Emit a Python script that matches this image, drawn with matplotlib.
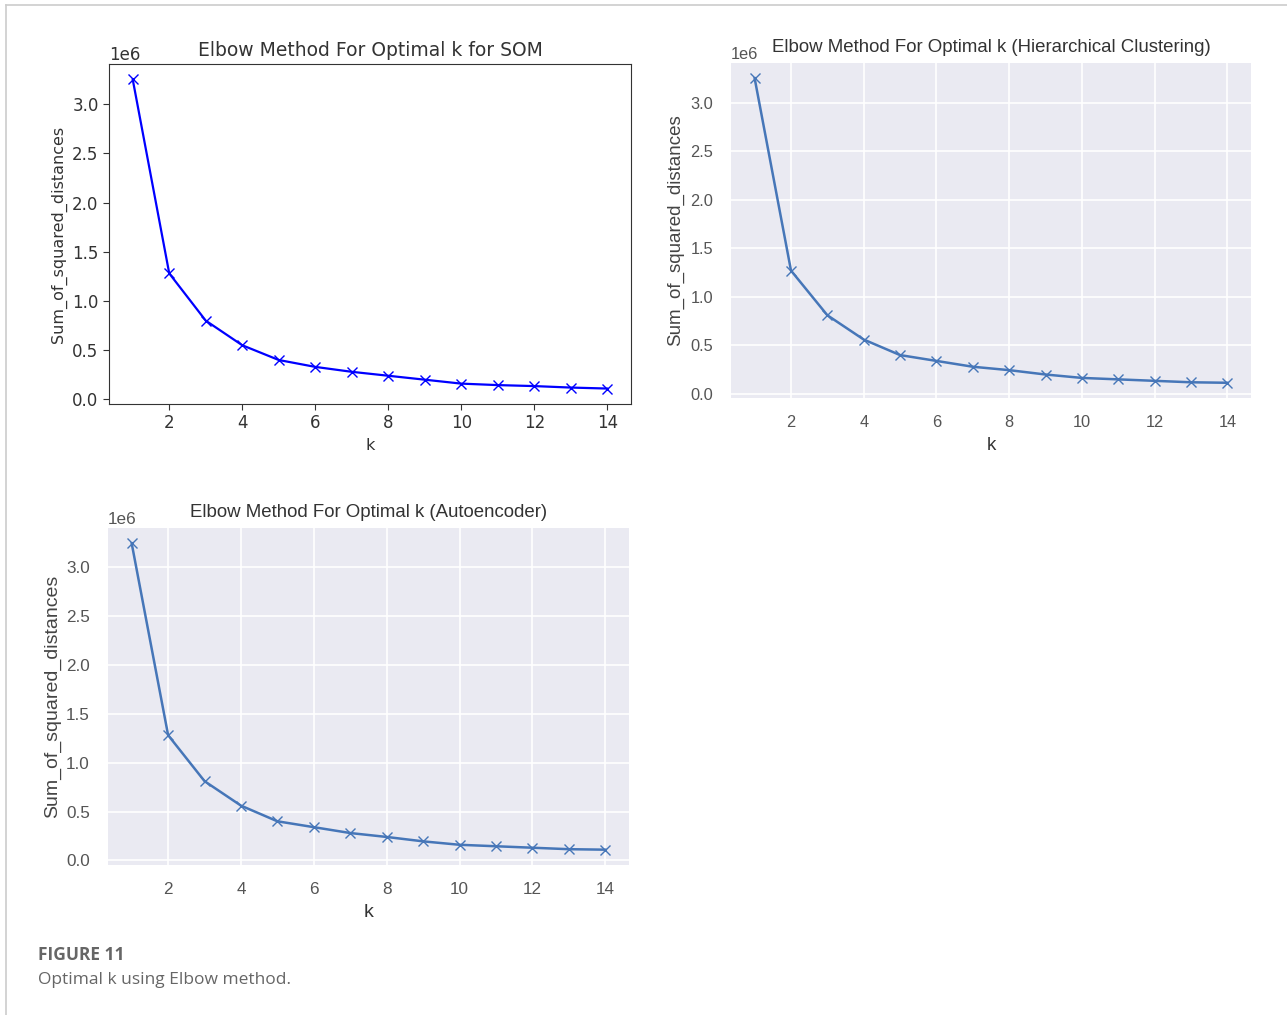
import matplotlib
matplotlib.use("Agg")
import matplotlib.pyplot as plt
from matplotlib.lines import Line2D

k_values = list(range(1, 15))
som_ssd = [3.25e6, 1.28e6, 0.80e6, 0.55e6, 0.40e6, 0.33e6, 0.28e6, 0.24e6,
           0.20e6, 0.16e6, 0.145e6, 0.135e6, 0.12e6, 0.11e6]
hier_ssd = [3.25e6, 1.27e6, 0.81e6, 0.56e6, 0.40e6, 0.34e6, 0.28e6, 0.245e6,
            0.20e6, 0.165e6, 0.15e6, 0.135e6, 0.12e6, 0.115e6]
auto_ssd = [3.24e6, 1.28e6, 0.81e6, 0.56e6, 0.40e6, 0.34e6, 0.28e6, 0.24e6,
            0.195e6, 0.16e6, 0.145e6, 0.13e6, 0.115e6, 0.11e6]
titles = ["Elbow Method For Optimal k for SOM",
          "Elbow Method For Optimal k (Hierarchical Clustering)",
          "Elbow Method For Optimal k (Autoencoder)"]
xlabel = "k"
ylabel = "Sum_of_squared_distances"
caption_head = "FIGURE 11"
caption_text = "Optimal k using Elbow method."

W, H = 1287, 1015
fig = plt.figure(figsize=(W / 100, H / 100), dpi=100)
fig.patch.set_facecolor("white")

def rect(l, t, r, b):
    return [l / W, 1 - b / H, (r - l) / W, (b - t) / H]

# --- Panel 1: classic matplotlib style ---
ax1 = fig.add_axes(rect(109, 64, 631, 404))
ax1.plot(k_values, som_ssd, "bx-", lw=1.6, ms=7)
ax1.set_title(titles[0], fontsize=13.5, family="DejaVu Sans", color="#333333", pad=6)
ax1.set_xlabel(xlabel, fontsize=11.5, color="#333333", labelpad=4)
ax1.set_ylabel(ylabel, fontsize=11.5, color="#333333")
ax1.set_xticks([2, 4, 6, 8, 10, 12, 14])
ax1.set_yticks([0, 0.5e6, 1.0e6, 1.5e6, 2.0e6, 2.5e6, 3.0e6])
ax1.tick_params(labelsize=12, colors="#333333", direction="out", length=4)
for sp in ax1.spines.values():
    sp.set_color("#333333")
ax1.yaxis.get_offset_text().set_fontsize(12)
ax1.yaxis.get_offset_text().set_color("#333333")

# --- Panels 2 & 3: seaborn darkgrid look ---
sns_blue = "#4676B8"
def dark_panel(ax, y, title, tick_fs, label_fs):
    ax.set_facecolor("#EAEAF2")
    ax.grid(True, color="white", lw=1.2)
    ax.set_axisbelow(True)
    for sp in ax.spines.values():
        sp.set_visible(False)
    ax.plot(k_values, y, marker="x", color=sns_blue, lw=1.8, ms=7.5)
    ax.set_title(title, fontsize=13.4, family="Liberation Sans", color="#333333", pad=8)
    ax.set_xlabel(xlabel, fontsize=label_fs, family="Liberation Sans", color="#333333", labelpad=5)
    ax.set_ylabel(ylabel, fontsize=label_fs, family="Liberation Sans", color="#444444", labelpad=4)
    ax.set_xticks([2, 4, 6, 8, 10, 12, 14])
    ax.set_yticks([0, 0.5e6, 1.0e6, 1.5e6, 2.0e6, 2.5e6, 3.0e6])
    ax.tick_params(axis="x", labelsize=tick_fs, colors="#555555", length=0, pad=12)
    ax.tick_params(axis="y", labelsize=tick_fs, colors="#555555", length=0, pad=13)
    for lab in ax.get_xticklabels() + ax.get_yticklabels():
        lab.set_family("Liberation Sans")
    ot = ax.yaxis.get_offset_text()
    ot.set_fontsize(tick_fs)
    ot.set_family("Liberation Sans")
    ot.set_color("#555555")

ax2 = fig.add_axes(rect(731, 63, 1251, 398))
dark_panel(ax2, hier_ssd, titles[1], 11.8, 13.5)
ax3 = fig.add_axes(rect(108, 528, 629, 865))
dark_panel(ax3, auto_ssd, titles[2], 12.3, 14)

# --- frame lines and caption ---
fig.add_artist(Line2D([6 / W, 1], [1 - 5 / H, 1 - 5 / H], color="#cccccc", lw=1.2))
fig.add_artist(Line2D([6 / W, 6 / W], [0, 1 - 5 / H], color="#cccccc", lw=1.2))
fig.text(38 / W, 1 - 955 / H, caption_head, fontsize=12.5, fontweight="bold",
         family="Open Sans", color="#666666", va="center")
fig.text(38 / W, 1 - 980 / H, caption_text, fontsize=12.5,
         family="Open Sans", color="#666666", va="center")

fig.savefig("out.png", dpi=100, facecolor="white")
